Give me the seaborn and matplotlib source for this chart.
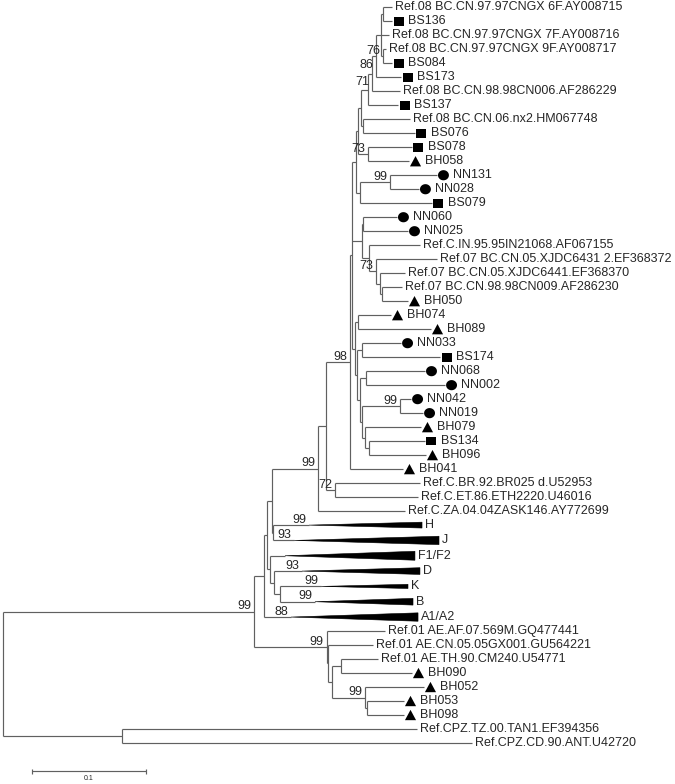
import numpy as np
import pandas as pd
import seaborn as sns
import matplotlib
matplotlib.use("Agg")
import matplotlib.pyplot as plt
from matplotlib.collections import LineCollection
from matplotlib.patches import Polygon

# ---------------- data ----------------
leaf_names = [
    "Ref.08 BC.CN.97.97CNGX 6F.AY008715", "BS136",
    "Ref.08 BC.CN.97.97CNGX 7F.AY008716", "Ref.08 BC.CN.97.97CNGX 9F.AY008717",
    "BS084", "BS173", "Ref.08 BC.CN.98.98CN006.AF286229", "BS137",
    "Ref.08 BC.CN.06.nx2.HM067748", "BS076", "BS078", "BH058", "NN131", "NN028",
    "BS079", "NN060", "NN025", "Ref.C.IN.95.95IN21068.AF067155",
    "Ref.07 BC.CN.05.XJDC6431 2.EF368372", "Ref.07 BC.CN.05.XJDC6441.EF368370",
    "Ref.07 BC.CN.98.98CN009.AF286230", "BH050", "BH074", "BH089", "NN033", "BS174",
    "NN068", "NN002", "NN042", "NN019", "BH079", "BS134", "BH096", "BH041",
    "Ref.C.BR.92.BR025 d.U52953", "Ref.C.ET.86.ETH2220.U46016",
    "Ref.C.ZA.04.04ZASK146.AY772699", "H", "J", "F1/F2", "D", "K", "B", "A1/A2",
    "Ref.01 AE.AF.07.569M.GQ477441", "Ref.01 AE.CN.05.05GX001.GU564221",
    "Ref.01 AE.TH.90.CM240.U54771", "BH090", "BH052", "BH053", "BH098",
    "Ref.CPZ.TZ.00.TAN1.EF394356", "Ref.CPZ.CD.90.ANT.U42720",
]
leaf_parent = [
    "na", "na", "p1", "n76", "n76", "n86", "n71", "b", "d", "d", "n73b", "n73b",
    "n99a", "n99a", "g", "n6025", "n6025", "o", "n73", "p", "r", "r", "n7489",
    "n7489", "n33174", "n33174", "n68002", "n68002", "n99b", "n99b", "j", "k", "k",
    "n98", "n72", "n72", "c99", "hj", "hj", "fd", "dkb", "kb", "kb", "a88p",
    "ae99", "aecn", "th", "th", "ae99b", "n5398", "n5398", "cpz", "cpz",
]
leaf_depth = [
    0.3410, 0.3410, 0.3383, 0.3357, 0.3410, 0.3489, 0.3480, 0.3463, 0.3568, 0.3611,
    0.3585, 0.3559, 0.3804, 0.3646, 0.3760, 0.3453, 0.3550, 0.3655, 0.3804, 0.3524,
    0.3497, 0.3550, 0.3401, 0.3752, 0.3489, 0.3831, 0.3699, 0.3875, 0.3577, 0.3682,
    0.3664, 0.3699, 0.3708, 0.3506, 0.3655, 0.3638, 0.3524,
    0.2682, 0.2550, 0.2471, 0.2620, 0.2787, 0.2734, 0.2524,
    0.3348, 0.3243, 0.3287, 0.3585, 0.3690, 0.3515, 0.3515, 0.3629, 0.4111,
]
leaf_marker = [
    "", "s", "", "", "s", "s", "", "s", "", "s", "s", "^", "o", "o", "s", "o", "o",
    "", "", "", "", "^", "^", "^", "o", "s", "o", "o", "o", "o", "^", "s", "^", "^",
    "", "", "", "", "", "", "", "", "", "", "", "", "", "^", "^", "^", "^", "", "",
]

node_names = [
    "root", "cpz", "m99", "a88p", "up", "chj", "c99", "c9872", "n98", "top",
    "f", "e", "c", "b", "n71", "n86", "p1", "na", "n76", "d", "n73b", "g", "n99a",
    "n", "n6025", "o", "n73", "p", "r", "m", "n7489", "l", "n33174", "h",
    "n68002", "i", "n99b", "j", "k", "n72", "hj", "fd", "dkb", "kb",
    "ae99", "aecn", "aelow", "th", "ae99b", "n5398",
]
node_parent = [
    None, "root", "root", "m99", "a88p", "up", "chj", "c99", "c9872", "n98",
    "top", "f", "e", "c", "b", "n71", "n86", "p1", "p1", "c", "e", "f", "g",
    "top", "n", "n", "o", "n73", "p", "top", "m", "m", "l", "l",
    "h", "h", "i", "i", "j", "c9872", "chj", "up", "fd", "dkb",
    "m99", "ae99", "aecn", "aelow", "aelow", "ae99b",
]
node_depth = [
    0.0, 0.1041, 0.2199, 0.2287, 0.2313, 0.2354, 0.2761, 0.2828, 0.3041, 0.3059,
    0.3094, 0.3111, 0.3138, 0.3199, 0.3234, 0.3269, 0.3311, 0.3333, 0.3333, 0.3155,
    0.3199, 0.3129, 0.3392,
    0.3147, 0.3155, 0.3208, 0.3269, 0.3304, 0.3322, 0.3085, 0.3111, 0.3103,
    0.3147, 0.3129, 0.3182, 0.3147, 0.3480, 0.3173, 0.3208, 0.2910, 0.2370, 0.2339,
    0.2374, 0.2427, 0.2837, 0.2845, 0.2881, 0.2960, 0.3173, 0.3190,
]
node_support = [
    "", "", "99", "", "", "", "99", "", "98", "",
    "", "", "", "", "71", "86", "", "", "76", "", "73", "", "99",
    "", "", "", "73", "", "", "", "", "", "", "",
    "", "", "99", "", "", "72", "", "", "", "",
    "99", "", "", "", "99", "",
]

collapsed_names = ["H", "J", "F1/F2", "D", "K", "B", "A1/A2"]
collapsed_end = [0.3673, 0.3822, 0.3611, 0.3655, 0.3550, 0.3594, 0.3638]
collapsed_half = [0.21, 0.30, 0.32, 0.24, 0.15, 0.24, 0.30]
collapsed_support = ["99", "93", "", "93", "99", "99", "88"]

scale_bar_length = 0.1
scale_bar_label = "0.1"

# ---------------- layout ----------------
W, H_ = 675, 784
PX_PER_UNIT = 1140.0
X0_PX = 3.3
TOP_PX, BOT_PX = 7.3, 743.0

is_coll = [n in collapsed_names for n in leaf_names]
gaps = [0.0] + [1.095 if (is_coll[i] and is_coll[i - 1]) else 1.0
                for i in range(1, len(leaf_names))]
leaf_y = np.cumsum(gaps)
sy = (BOT_PX - TOP_PX) / leaf_y[-1]
PX = 1.0 / PX_PER_UNIT
PY = 1.0 / sy

children = {n: [] for n in node_names}
for i, p in enumerate(leaf_parent):
    children[p].append(("leaf", i))
for n, p in zip(node_names, node_parent):
    if p is not None:
        children[p].append(("node", n))
ndepth = dict(zip(node_names, node_depth))
nparent = dict(zip(node_names, node_parent))
nsupport = dict(zip(node_names, node_support))
node_y = {}


def get_y(item):
    kind, key = item
    if kind == "leaf":
        return leaf_y[key]
    if key not in node_y:
        ys = [get_y(c) for c in children[key]]
        node_y[key] = 0.5 * (min(ys) + max(ys))
    return node_y[key]


for n in node_names:
    get_y(("node", n))

sns.set_theme(style="white")
plt.rcParams["font.family"] = ["Liberation Sans", "DejaVu Sans"]
FS = 9.0
LC = "#606060"
LW = 0.85

fig = plt.figure(figsize=(W / 100, H_ / 100), dpi=100)
ax = fig.add_axes([0, 0, 1, 1])
ax.set_xlim(-X0_PX * PX, (W - X0_PX) * PX)
ax.set_ylim((H_ - TOP_PX) * PY, -TOP_PX * PY)
ax.axis("off")

segs = []
for i, p in enumerate(leaf_parent):
    segs.append([(ndepth[p], leaf_y[i]), (leaf_depth[i], leaf_y[i])])
for n in node_names:
    p = nparent[n]
    if p is not None:
        segs.append([(ndepth[p], node_y[n]), (ndepth[n], node_y[n])])
    ys = [get_y(c) for c in children[n]]
    segs.append([(ndepth[n], min(ys)), (ndepth[n], max(ys))])
ax.add_collection(LineCollection(segs, colors=LC, linewidths=LW))

# support labels (collected, then placed avoiding overlaps like the tree viewer)
labels = []
for n in node_names:
    if nsupport[n]:
        labels.append((node_y[n], ndepth[n], nsupport[n]))

# collapsed clades
for name, end, half, sup in zip(collapsed_names, collapsed_end, collapsed_half,
                                collapsed_support):
    i = leaf_names.index(name)
    y = leaf_y[i]
    apex = leaf_depth[i]
    ax.add_patch(Polygon([(apex, y), (end, y - half), (end, y + half)],
                         closed=True, facecolor="black", edgecolor="black", lw=0.4))
    ax.text(end + 3 * PX, y, name, fontsize=FS, ha="left", va="center")
    if sup:
        labels.append((y, apex, sup))

placed = []
for y, x, s in sorted(labels, key=lambda t: (t[0], -t[1])):
    xr = x - 3 * PX
    xl = xr - len(s) * 7 * PX
    yb = y - 2.5 * PY
    while any(not (xr < a or xl > b or yb - 9 * PY > d or yb < c)
              for a, b, c, d in placed):
        yb += (sy / sy) * 1.0  # move down one row
    placed.append((xl, xr, yb - 9 * PY, yb))
    ax.text(xr, yb, s, fontsize=FS, ha="right", va="baseline")

# markers
df = pd.DataFrame({"name": leaf_names, "depth": leaf_depth, "y": leaf_y,
                   "marker": leaf_marker})
marker_shapes = {
    "s": ([(-1.0, -0.87), (1.0, -0.87), (1.0, 0.87), (-1.0, 0.87)], 52),
    "o": ([(np.cos(t), 0.93 * np.sin(t)) for t in np.linspace(0, 2 * np.pi, 40)], 62),
    "^": ([(0.0, 0.93), (-1.0, -0.93), (1.0, -0.93)], 64),
}
for m, (verts, size) in marker_shapes.items():
    sub = df[df["marker"] == m]
    sns.scatterplot(x=sub["depth"] + 6.5 * PX, y=sub["y"], marker=verts, s=size,
                    color="black", edgecolor="none", linewidth=0, ax=ax,
                    legend=False)

for i, name in enumerate(leaf_names):
    if is_coll[i]:
        continue
    off = 16 * PX if leaf_marker[i] else 3 * PX
    ax.text(leaf_depth[i] + off, leaf_y[i], name, fontsize=FS, ha="left",
            va="center")

# scale bar
sb_x0 = (32 - X0_PX) * PX
sb_y = (771 - TOP_PX) * PY
tick = 2.5 * PY
ax.add_collection(LineCollection(
    [[(sb_x0, sb_y), (sb_x0 + scale_bar_length, sb_y)],
     [(sb_x0, sb_y - tick), (sb_x0, sb_y + tick)],
     [(sb_x0 + scale_bar_length, sb_y - tick), (sb_x0 + scale_bar_length, sb_y + tick)]],
    colors=LC, linewidths=LW))
ax.text(sb_x0 + scale_bar_length / 2, (779 - TOP_PX) * PY, scale_bar_label,
        fontsize=5, ha="center", va="center")

fig.savefig("out.png", dpi=100)
